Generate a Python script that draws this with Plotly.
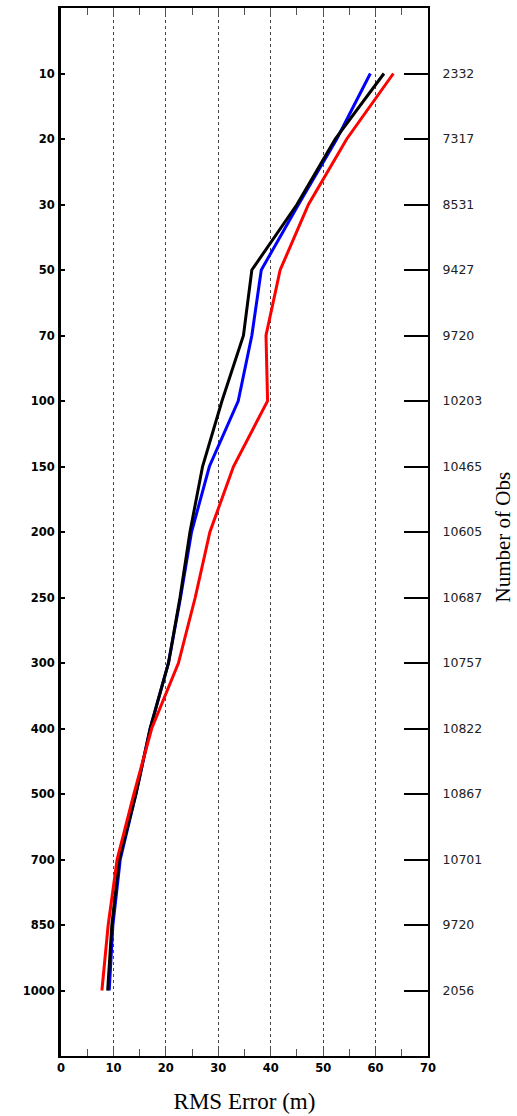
import plotly.graph_objects as go

levels = ["10", "20", "30", "50", "70", "100", "150", "200", "250", "300", "400", "500", "700", "850", "1000"]
obs_counts = ["2332", "7317", "8531", "9427", "9720", "10203", "10465", "10605", "10687", "10757", "10822", "10867", "10701", "9720", "2056"]

rms_blue = [59.0, 52.6, 45.3, 38.2, 36.4, 33.8, 28.3, 24.9, 22.8, 20.5, 17.0, 14.3, 11.3, 9.9, 9.2]
rms_black = [61.6, 52.3, 45.0, 36.4, 34.8, 30.7, 27.0, 24.6, 22.7, 20.5, 17.0, 14.3, 11.1, 9.7, 8.9]
rms_red = [63.4, 54.5, 47.2, 41.8, 39.1, 39.4, 32.9, 28.4, 25.6, 22.4, 17.3, 13.9, 10.7, 9.0, 7.8]

fig = go.Figure()
for vals, col in [(rms_blue, "#0000ff"), (rms_black, "#000000"), (rms_red, "#ff0000")]:
    fig.add_trace(go.Scatter(x=vals, y=levels, mode="lines",
                             line=dict(color=col, width=3), showlegend=False))
# invisible trace to carry the right-hand axis
fig.add_trace(go.Scatter(x=rms_black, y=levels, yaxis="y2", mode="lines",
                         line=dict(width=0), opacity=0, showlegend=False, hoverinfo="skip"))

tickfont_bold = dict(family="DejaVu Sans", size=11.5, color="black", weight="bold")

fig.update_layout(
    width=517, height=1116,
    margin=dict(l=61, r=89, t=6, b=59),
    paper_bgcolor="white", plot_bgcolor="white",
    xaxis=dict(
        range=[0, 70], tick0=0, dtick=10,
        tickfont=tickfont_bold, ticks="inside", ticklen=7, tickwidth=1, tickcolor="#555555",
        showgrid=True, gridcolor="#444444", gridwidth=1, griddash="dot",
        showline=True, linecolor="black", linewidth=2, mirror="ticks",
        zeroline=False,
        minor=dict(dtick=5, ticks="inside", ticklen=7, tickwidth=1, tickcolor="#555555"),
        title=dict(text="RMS Error (m)", font=dict(family="Liberation Serif", size=23, color="black"), standoff=19),
    ),
    yaxis=dict(
        type="category", categoryorder="array", categoryarray=levels,
        range=[len(levels), -1],
        tickfont=tickfont_bold, ticks="inside", ticklen=4, tickwidth=1.5, tickcolor="black",
        showgrid=False, showline=True, linecolor="black", linewidth=3,
        zeroline=False, ticklabelstandoff=1,
    ),
    yaxis2=dict(
        type="category", categoryorder="array", categoryarray=levels,
        range=[len(levels), -1], overlaying="y", side="right",
        tickmode="array", tickvals=levels, ticktext=obs_counts,
        tickfont=dict(family="DejaVu Sans", size=12.5, color="#222222"),
        ticks="inside", ticklen=24, tickwidth=1.5, tickcolor="black",
        showgrid=False, showline=True, linecolor="black", linewidth=2,
        zeroline=False, ticklabelstandoff=10,
    ),
    annotations=[dict(text="Number of Obs", xref="paper", yref="paper",
                      x=(503 - 61) / 367, y=1 - (537 - 6) / 1051,
                      xanchor="center", yanchor="middle", textangle=-90, showarrow=False,
                      font=dict(family="Liberation Serif", size=21, color="black"))],
)

fig.write_html("out.html")
